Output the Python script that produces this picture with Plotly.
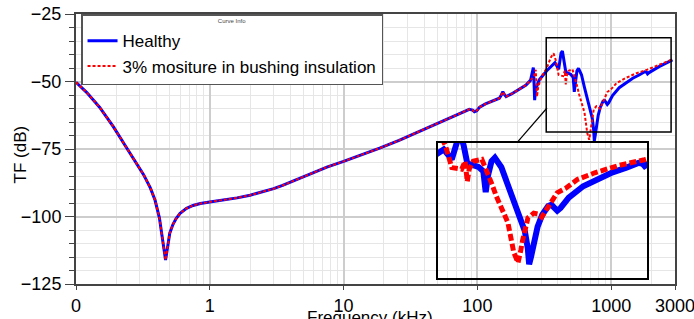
import math
import plotly.graph_objects as go

# ---- data (frequency in kHz, transfer function in dB) ----
common_freq = [0.1, 0.12, 0.15, 0.19, 0.24, 0.28, 0.32, 0.36, 0.39, 0.42, 0.44, 0.455,
               0.467, 0.478, 0.49, 0.502, 0.53, 0.56, 0.6, 0.67, 0.75, 0.85, 1.0, 1.3,
               1.6, 2.0, 2.5, 3.0, 3.5, 4.0, 4.7, 5.6, 7.5, 10, 14, 18.6, 26, 37, 50, 65,
               80, 87, 92, 95, 99, 104, 115, 130, 146, 151, 155, 159, 164, 180, 200, 231, 250]
common_db = [-50.3, -54.0, -59.5, -66.7, -74.7, -80.0, -84.5, -89.5, -94.0, -100.5, -107.0,
             -112.5, -116.1, -113.0, -109.0, -106.2, -103.0, -100.8, -98.8, -97.0, -95.9,
             -95.2, -94.6, -93.9, -93.1, -92.1, -90.9, -89.7, -88.5, -87.3, -85.9, -84.2,
             -81.7, -79.6, -77.0, -74.7, -71.8, -68.5, -65.6, -63.0, -61.0, -60.3, -60.6,
             -61.2, -60.8, -59.5, -58.3, -57.3, -56.2, -55.0, -53.8, -54.8, -55.6, -54.6,
             -53.2, -51.3, -49.5]

healthy_hf_freq = [256, 262, 265, 268, 272, 290, 330, 380, 405, 422, 432, 445, 458, 500,
                   520, 530, 540, 555, 570, 600, 630, 675, 723, 740, 748, 760, 780, 800,
                   830, 870, 893, 915, 935, 960, 1024, 1148, 1300, 1450, 1618, 1780, 1840,
                   1870, 1920, 2100, 2280, 2550, 2870]
healthy_hf_db = [-47.5, -44.8, -50.0, -56.9, -53.0, -49.4, -46.0, -43.0, -45.5, -39.5,
                 -38.7, -42.0, -46.5, -47.4, -48.5, -53.8, -49.5, -46.0, -45.1, -47.5,
                 -52.0, -57.8, -63.7, -68.0, -72.0, -70.0, -65.5, -62.5, -59.5, -57.3,
                 -57.0, -57.8, -58.5, -57.8, -55.2, -52.3, -50.3, -48.8, -47.6, -46.4,
                 -46.6, -47.2, -46.7, -45.4, -44.5, -43.3, -42.0]

moisture_hf_freq = [256, 265, 273, 279, 285, 300, 330, 355, 371, 385, 405, 438, 450, 455,
                    458, 465, 480, 514, 532, 555, 577, 605, 632, 662, 685, 700, 709, 741,
                    776, 800, 826, 870, 936, 1000, 1096, 1259, 1531, 1867, 2280, 2550, 2870]
moisture_hf_db = [-48.8, -48.0, -45.7, -55.6, -52.0, -48.5, -45.0, -41.0, -39.6, -42.0,
                  -47.6, -48.0, -46.0, -49.0, -51.1, -48.0, -46.0, -45.5, -48.0, -51.5,
                  -54.9, -58.0, -61.5, -69.0, -71.6, -68.5, -66.2, -60.3, -59.1, -59.3,
                  -60.1, -57.5, -53.9, -52.8, -50.6, -48.9, -47.0, -45.6, -43.9, -42.8, -41.8]

healthy_freq = common_freq + healthy_hf_freq
healthy_db = common_db + healthy_hf_db
moisture_freq = common_freq + moisture_hf_freq
moisture_db = common_db + moisture_hf_db

series_names = ["Healthy", "3% mositure in bushing insulation"]
x_tick_vals = [0.1, 1, 10, 100, 1000, 3000]
x_tick_text = ["0", "1", "10", "100", "1000", "3000"]
zoom_freq = [327, 2805]        # zoomed region shown in the inset (kHz)
zoom_db = [-68.7, -33.8]       # zoomed region (dB)
inset_freq_range = [363, 1905]
inset_db_range = [-75.5, -41.3]

FONT = "Liberation Sans, Arial, sans-serif"
minor_x = [m * 10 ** d for d in range(-1, 4) for m in range(2, 10) if m * 10 ** d < 3000]

fig = go.Figure()
fig.add_trace(go.Scatter(x=healthy_freq, y=healthy_db, mode="lines", name=series_names[0],
                         line=dict(color="#0000ff", width=3)))
fig.add_trace(go.Scatter(x=moisture_freq, y=moisture_db, mode="lines", name=series_names[1],
                         line=dict(color="#ff0000", width=2, dash="3px,2px")))
# inset copies
fig.add_trace(go.Scatter(x=healthy_freq, y=healthy_db, mode="lines", showlegend=False,
                         xaxis="x2", yaxis="y2", line=dict(color="#0000ff", width=6)))
fig.add_trace(go.Scatter(x=moisture_freq, y=moisture_db, mode="lines", showlegend=False,
                         xaxis="x2", yaxis="y2", line=dict(color="#ff0000", width=5, dash="7px,3px")))

axis_common = dict(showline=True, mirror=True, linecolor="#444", linewidth=2,
                   zeroline=False, automargin=False, ticklabeloverflow="allow",
                   tickfont=dict(family=FONT, size=18, color="#000"))

fig.update_layout(
    width=694, height=319,
    margin=dict(l=76, r=19, t=14, b=35, autoexpand=False),
    paper_bgcolor="white", plot_bgcolor="rgba(0,0,0,0)",
    font=dict(family=FONT, color="#000"),
    xaxis=dict(type="log", range=[math.log10(0.1), math.log10(3000)],
               tickmode="array", tickvals=x_tick_vals, ticktext=x_tick_text,
               ticks="outside", ticklen=4, tickcolor="#444",
               showgrid=True, gridcolor="#cdcdcd", gridwidth=1.5,
               minor=dict(tickmode="array", tickvals=minor_x, showgrid=True,
                          gridcolor="#e6e6e6", gridwidth=1.2, ticks=""),
               **axis_common),
    yaxis=dict(range=[-125, -25], tickmode="linear", tick0=-125, dtick=25,
               ticks="outside", ticklen=9, tickcolor="#444",
               showgrid=True, gridcolor="#cdcdcd", gridwidth=1.5,
               minor=dict(dtick=5, showgrid=True, gridcolor="#e6e6e6", gridwidth=1.2,
                          ticks="outside", ticklen=5, tickcolor="#444"),
               **axis_common),
    xaxis2=dict(type="log", domain=[0.6043, 0.9533], anchor="y2",
                range=[math.log10(inset_freq_range[0]), math.log10(inset_freq_range[1])],
                showticklabels=False, ticks="", showgrid=False, zeroline=False,
                showline=True, mirror=True, linecolor="#000", linewidth=1.5),
    yaxis2=dict(domain=[0.0222, 0.5233], anchor="x2", range=inset_db_range,
                showticklabels=False, ticks="", showgrid=False, zeroline=False,
                showline=True, mirror=True, linecolor="#000", linewidth=1.5),
    legend=dict(x=0.0084, y=1, xanchor="left", yanchor="top",
                bgcolor="white", bordercolor="#555", borderwidth=1.5,
                font=dict(family=FONT, size=17, color="#000"),
                title=dict(text="Curve Info", side="top center",
                           font=dict(family=FONT, size=6, color="#444")),
                itemwidth=30, tracegroupgap=0),
    annotations=[
        dict(text="TF (dB)", textangle=-90, xref="paper", yref="paper",
             x=-0.0935, y=0.48, xanchor="center", yanchor="middle", showarrow=False,
             font=dict(family=FONT, size=17, color="#000")),
        dict(text="Frequency (kHz)", xref="paper", yref="paper",
             x=0.49, y=-0.082, xanchor="center", yanchor="top", showarrow=False,
             font=dict(family=FONT, size=17, color="#000")),
    ],
    shapes=[
        dict(type="rect", xref="x", yref="y", x0=zoom_freq[0], x1=zoom_freq[1],
             y0=zoom_db[0], y1=zoom_db[1], line=dict(color="#000", width=1.5)),
        dict(type="line", xref="paper", yref="paper", x0=0.7863, y0=0.6519,
             x1=0.7362, y1=0.5233, line=dict(color="#000", width=1.2)),
    ],
)

fig.write_html("out.html", config={"displayModeBar": False},
               post_script="document.body.style.margin='0';")
